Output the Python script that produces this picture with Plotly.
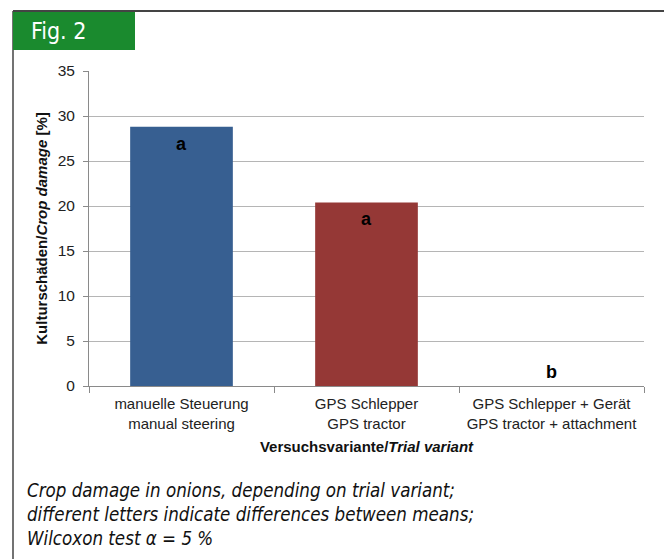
import plotly.graph_objects as go

categories = ["manuelle Steuerung<br>manual steering",
              "GPS Schlepper<br>GPS tractor",
              "GPS Schlepper + Gerät<br>GPS tractor + attachment"]
damage = [28.8, 20.4, 0.0]
letters = ["a", "a", "b"]
bar_colors = ["#375F91", "#953836", "#4F7F3A"]

fig = go.Figure()
fig.add_trace(go.Bar(x=categories, y=damage, marker=dict(color=bar_colors, line=dict(width=0)),
                     width=0.555, hoverinfo="skip"))

for c, v, l in zip(categories, damage, letters):
    fig.add_annotation(x=c, y=v, xref="x", yref="y", text="<b>%s</b>" % l, showarrow=False,
                       yanchor="middle", yshift=(-17 if v > 3 else 14),
                       font=dict(family="Liberation Sans, Arial", size=18, color="#000"))

fig.update_layout(
    width=664, height=559,
    margin=dict(l=89, r=20, t=71, b=173),
    paper_bgcolor="white", plot_bgcolor="white",
    showlegend=False,
    font=dict(family="Liberation Sans, Arial", color="#222"),
    xaxis=dict(showline=True, linecolor="#8a8a8a", linewidth=1, ticks="outside",
               tickson="boundaries", ticklen=6, tickcolor="#8a8a8a",
               ticklabelstandoff=4,
               tickfont=dict(size=15, color="#222"), showgrid=False,
               title=dict(text="<b>Versuchsvariante/<i>Trial variant</i></b>",
                          font=dict(size=15, color="#111"), standoff=10)),
    yaxis=dict(range=[0, 35], dtick=5, showline=True, linecolor="#8a8a8a", linewidth=1,
               ticks="outside", ticklen=5, tickcolor="#8a8a8a",
               ticklabelstandoff=5,
               showgrid=True, gridcolor="#b5b5b5", gridwidth=1, zeroline=False,
               tickfont=dict(size=15.5, color="#222"),
               title=dict(text="<b>Kulturschäden/<i>Crop damage</i> [%]</b>",
                          font=dict(size=15, color="#111"), standoff=6)),
)

# frame lines and header badge
fig.add_shape(type="line", xref="paper", yref="paper", x0=-76/555, x1=1 + 20/555,
              y0=1 + 60/315, y1=1 + 60/315, line=dict(color="#444", width=2))
fig.add_shape(type="line", xref="paper", yref="paper", x0=-76/555, x1=-76/555,
              y0=1 + 60/315, y1=-173/315, line=dict(color="#444", width=1.5))
fig.add_shape(type="rect", xref="paper", yref="paper", x0=-76/555, x1=46/555,
              y0=1 + 21/315, y1=1 + 59/315, fillcolor="#1A8A2E", line=dict(width=0), layer="above")
fig.add_annotation(xref="paper", yref="paper", x=-60/555, y=1 + 40/315, xanchor="left",
                   yanchor="middle", text="Fig. 2", showarrow=False,
                   font=dict(family="Liberation Sans Narrow, DejaVu Sans Condensed, Liberation Sans",
                             size=23, color="white"))

caption = ("<i>Crop damage in onions, depending on trial variant;<br>"
           "different letters indicate differences between means;<br>"
           "Wilcoxon test α = 5 %</i>")
fig.add_annotation(xref="paper", yref="paper", x=-64/555, y=-92/315, xanchor="left",
                   yanchor="top", align="left", text=caption, showarrow=False,
                   font=dict(family="Liberation Sans Narrow, DejaVu Sans Condensed, Liberation Sans",
                             size=18.6, color="#111"))

fig.write_html("out.html", config={"displayModeBar": False},
               post_script="document.body.style.margin='0px';")
